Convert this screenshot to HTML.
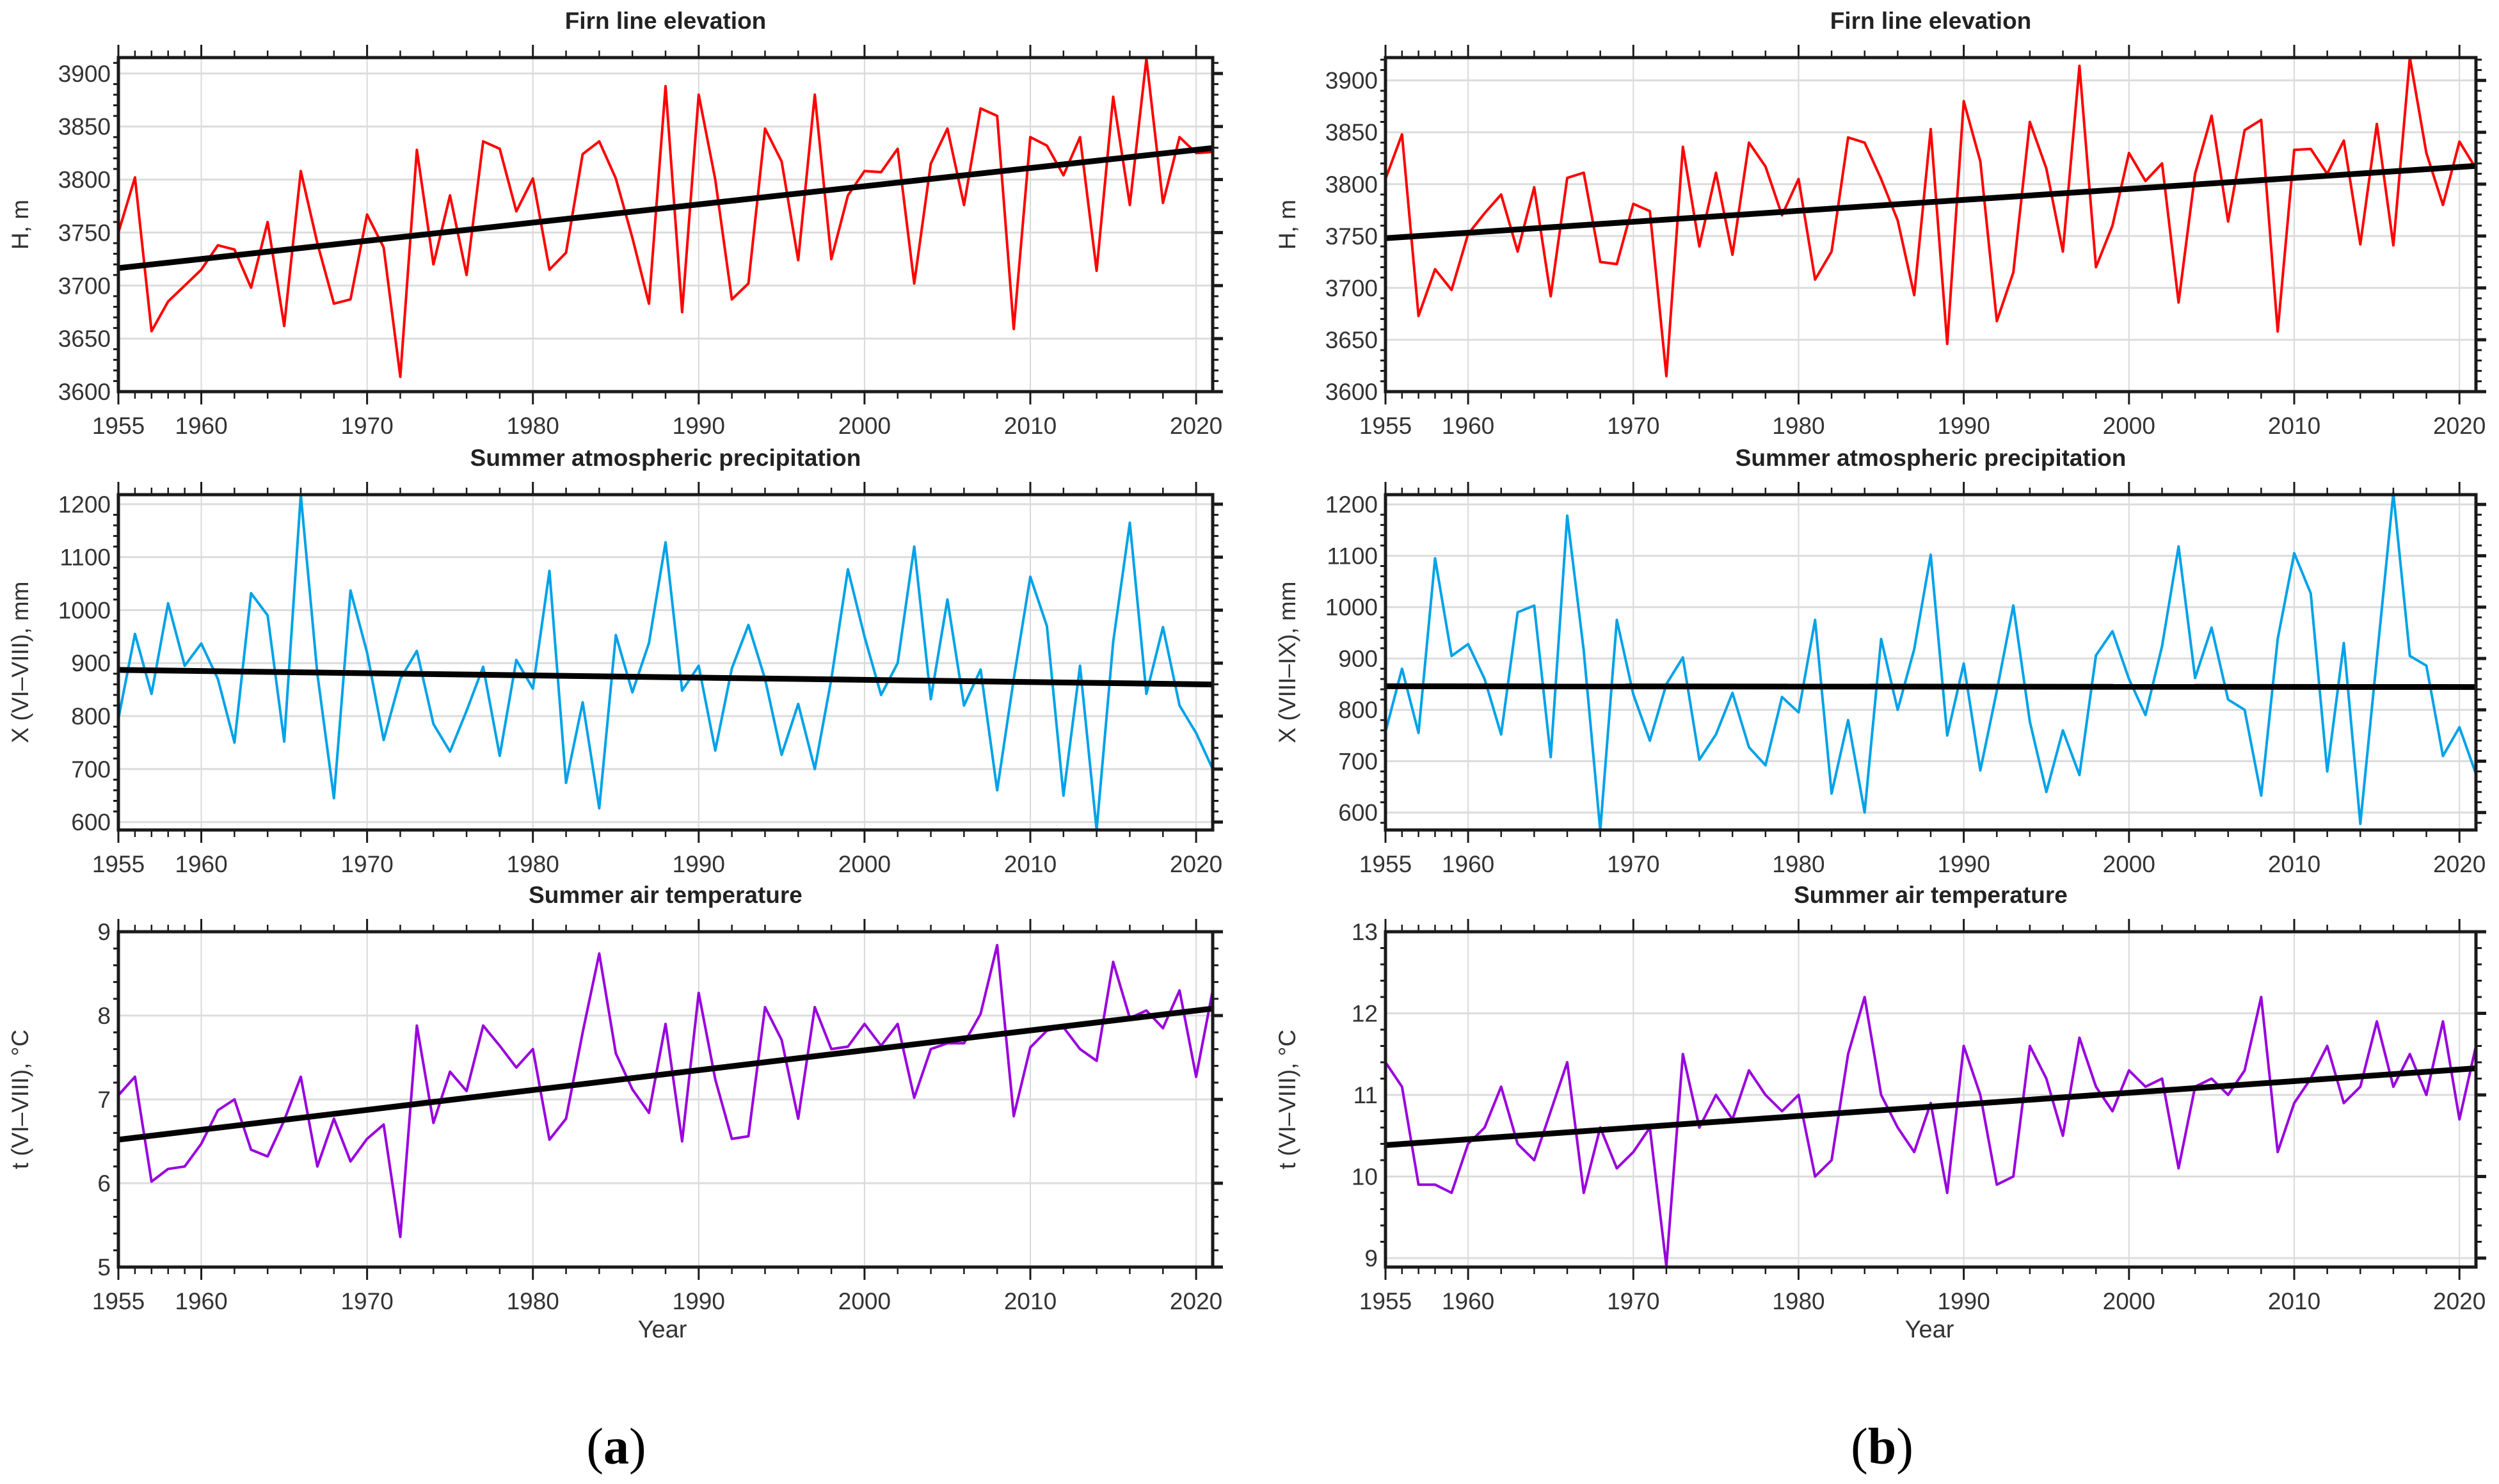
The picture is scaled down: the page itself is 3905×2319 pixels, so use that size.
<!DOCTYPE html>
<html><head><meta charset="utf-8"><style>
html,body{margin:0;padding:0;background:#fff;}
svg{display:block;}
text{font-family:"Liberation Sans",sans-serif;}
</style></head>
<body>
<svg id="fig" width="3905" height="2319" viewBox="0 0 3905 2319" xmlns="http://www.w3.org/2000/svg">
<rect x="0" y="0" width="3905" height="2319" fill="#fff"/>
<text x="1035" y="2090" font-size="38" fill="#333" text-anchor="middle">Year</text>
<text x="3015" y="2090" font-size="38" fill="#333" text-anchor="middle">Year</text>
<text x="963" y="2287" font-size="80" text-anchor="middle" style="font-family:'Liberation Serif',serif">(<tspan font-weight="bold">a</tspan>)</text>
<text x="2941" y="2287" font-size="80" text-anchor="middle" style="font-family:'Liberation Serif',serif">(<tspan font-weight="bold">b</tspan>)</text>
</svg>
<script>
const years = [];
for (let y = 1955; y <= 2021; y++) years.push(y);
const xTickLabels = [1955,1960,1970,1980,1990,2000,2010,2020];

const firnA = [3750,3802,3657,3685,3700,3715,3738,3734,3698,3760,3662,3808,3740,3683,3687,3767,3736,3614,3828,3720,3785,3710,3836,3829,3770,3801,3715,3731,3824,3836,3801,3745,3683,3888,3675,3880,3800,3687,3702,3848,3817,3724,3880,3725,3785,3808,3807,3829,3702,3815,3848,3776,3867,3860,3659,3840,3832,3804,3840,3714,3878,3776,3914,3778,3840,3825,3826];
const firnB = [3805,3848,3673,3718,3698,3752,3772,3790,3735,3797,3692,3806,3811,3725,3723,3781,3774,3615,3836,3740,3811,3732,3840,3817,3770,3805,3708,3735,3845,3840,3805,3765,3693,3853,3646,3880,3822,3668,3715,3860,3815,3735,3914,3720,3760,3830,3803,3820,3686,3810,3866,3764,3852,3862,3658,3833,3834,3810,3842,3742,3858,3741,3922,3830,3780,3841,3815];
const precA = [795,955,842,1013,895,937,870,750,1032,990,752,1218,880,645,1037,920,755,870,923,785,733,810,893,725,906,852,1074,674,826,626,953,845,938,1128,848,895,735,890,972,870,727,823,700,870,1077,950,840,900,1120,832,1020,820,888,660,870,1063,970,650,895,585,940,1165,842,968,820,768,700];
const precB = [757,880,755,1095,905,928,860,752,990,1003,708,1178,915,565,975,830,740,850,902,703,752,833,727,692,825,795,975,637,780,600,938,800,918,1102,750,890,682,837,1003,777,640,760,673,906,953,860,790,924,1118,862,960,820,800,633,938,1105,1027,680,930,578,900,1222,905,886,710,766,675];
const tempA = [7.05,7.27,6.02,6.17,6.20,6.47,6.87,7.00,6.40,6.32,6.75,7.27,6.20,6.77,6.26,6.53,6.70,5.36,7.88,6.72,7.33,7.10,7.88,7.64,7.38,7.60,6.52,6.77,7.80,8.74,7.55,7.12,6.84,7.90,6.50,8.27,7.24,6.53,6.56,8.10,7.71,6.77,8.10,7.60,7.63,7.90,7.64,7.90,7.02,7.60,7.67,7.67,8.02,8.84,6.80,7.62,7.82,7.86,7.60,7.46,8.64,7.97,8.06,7.85,8.30,7.27,8.30];
const tempB = [11.4,11.1,9.9,9.9,9.8,10.4,10.6,11.1,10.4,10.2,10.8,11.4,9.8,10.6,10.1,10.3,10.6,8.9,11.5,10.6,11.0,10.7,11.3,11.0,10.8,11.0,10.0,10.2,11.5,12.2,11.0,10.6,10.3,10.9,9.8,11.6,11.0,9.9,10.0,11.6,11.2,10.5,11.7,11.1,10.8,11.3,11.1,11.2,10.1,11.1,11.2,11.0,11.3,12.2,10.3,10.9,11.2,11.6,10.9,11.1,11.9,11.1,11.5,11.0,11.9,10.7,11.6];

const yTicksFirn = [3600,3650,3700,3750,3800,3850,3900];
const yTicksPrecA = [600,700,800,900,1000,1100,1200];
const yTicksPrecB = [600,700,800,900,1000,1100,1200];
const yTicksTempA = [5,6,7,8,9];
const yTicksTempB = [9,10,11,12,13];

const NS = "http://www.w3.org/2000/svg";
const svg = document.getElementById('fig');
function mk(tag, attrs, parent) {
  const e = document.createElementNS(NS, tag);
  for (const k in attrs) e.setAttribute(k, attrs[k]);
  (parent || svg).appendChild(e);
  return e;
}

function panel(cfg) {
  const g = mk('g', {});
  
  
  const {x0, x1, y0, y1, dmin, dmax} = cfg;
  const xs = v => x0 + (v - 1955) / (2021 - 1955) * (x1 - x0);
  const ys = v => y1 - (v - dmin) / (dmax - dmin) * (y1 - y0);
  // grid
  xTickLabels.forEach(t => {
    const l = mk('line', {x1: xs(t), x2: xs(t), y1: y0, y2: y1, stroke: '#d9d9d9', 'stroke-width': 2}, g);
    
    
  });
  cfg.yTicks.forEach(t => {
    if (t < dmin || t > dmax) return;
    const l = mk('line', {x1: x0, x2: x1, y1: ys(t), y2: ys(t), stroke: '#dcdcdc', 'stroke-width': 3}, g);
    
    
  });
  // data line
  const pts = cfg.data.map((v, i) => xs(years[i]).toFixed(1) + ',' + ys(v).toFixed(1)).join(' ');
  const pl = mk('polyline', {points: pts, fill: 'none', stroke: cfg.color, 'stroke-width': 4, 'stroke-linejoin': 'round'}, g);
  
  
  // trend (least squares)
  const n = cfg.data.length;
  let sx = 0, sy = 0, sxx = 0, sxy = 0;
  cfg.data.forEach((v, i) => { const x = years[i]; sx += x; sy += v; sxx += x * x; sxy += x * v; });
  const b = (n * sxy - sx * sy) / (n * sxx - sx * sx);
  const a = (sy - b * sx) / n;
  const tr = mk('line', {x1: xs(1955), y1: ys(a + b * 1955), x2: xs(2021), y2: ys(a + b * 2021), stroke: '#000', 'stroke-width': 9}, g);
  
  
  // frame
  const fr = mk('rect', {x: x0, y: y0, width: x1 - x0, height: y1 - y0, fill: 'none', stroke: '#1a1a1a', 'stroke-width': 5}, g);
  
  
  // x ticks top & bottom
  const minorX = [1956,1957,1958,1959];
  for (let y = 1962; y <= 2020; y += 2) minorX.push(y);
  xTickLabels.forEach(t => {
    mk('line', {x1: xs(t), x2: xs(t), y1: y0, y2: y0 - 20, stroke: '#1a1a1a', 'stroke-width': 3}, g);
    mk('line', {x1: xs(t), x2: xs(t), y1: y1, y2: y1 + 20, stroke: '#1a1a1a', 'stroke-width': 3}, g);
    const tx = mk('text', {x: xs(t), y: y1 + 66, 'font-size': 37, fill: '#333', 'text-anchor': 'middle'}, g);
    tx.textContent = t;
    
    
  });
  minorX.forEach(t => {
    mk('line', {x1: xs(t), x2: xs(t), y1: y0, y2: y0 - 11, stroke: '#1a1a1a', 'stroke-width': 2.5}, g);
    mk('line', {x1: xs(t), x2: xs(t), y1: y1, y2: y1 + 11, stroke: '#1a1a1a', 'stroke-width': 2.5}, g);
  });
  // y ticks
  const step = cfg.minorStep;
  const start = Math.ceil(dmin / step - 1e-9) * step;
  for (let v = start; v <= dmax + 1e-9; v += step) {
    const isMajor = cfg.yTicks.some(t => Math.abs(t - v) < 1e-6);
    const yy = ys(v);
    mk('line', {x1: x0, x2: x0 - (isMajor ? 0 : 8), y1: yy, y2: yy, stroke: '#1a1a1a', 'stroke-width': 3}, g);
    mk('line', {x1: x1, x2: x1 + (isMajor ? 16 : 9), y1: yy, y2: yy, stroke: '#1a1a1a', 'stroke-width': isMajor ? 5 : 3}, g);
  }
  cfg.yTicks.forEach(t => {
    if (t < dmin - 1e-9 || t > dmax + 1e-9) return;
    const tx = mk('text', {x: x0 - 12, y: ys(t) + 13, 'font-size': 37, fill: '#333', 'text-anchor': 'end'}, g);
    tx.textContent = t;
    
    
  });
  // title
  const tt = mk('text', {x: (x0 + x1) / 2, y: y0 - 45, 'font-size': 37, 'font-weight': 'bold', fill: '#222', 'text-anchor': 'middle'}, g);
  tt.textContent = cfg.title;
  
  
  // y label
  const cy = (y0 + y1) / 2;
  const yl = mk('text', {x: cfg.ylx, y: cy, 'font-size': 37, fill: '#333', 'text-anchor': 'middle', transform: 'rotate(-90 ' + cfg.ylx + ' ' + cy + ')'}, g);
  yl.textContent = cfg.ylabel;
  
  
}

const AX = {x0: 185, x1: 1895}, BX = {x0: 2165, x1: 3869};
const R1 = {y0: 90, y1: 612}, R2 = {y0: 773, y1: 1297}, R3 = {y0: 1456, y1: 1980};

panel(Object.assign({name: 'firn-chart-a', title: 'Firn line elevation', ylabel: 'H, m', ylx: 44, data: firnA, color: '#ff0000', seriesName: 'firn-series-a', dmin: 3600, dmax: 3915, yTicks: yTicksFirn, minorStep: 10}, AX, R1));
panel(Object.assign({name: 'firn-chart-b', title: 'Firn line elevation', ylabel: 'H, m', ylx: 2024, data: firnB, color: '#ff0000', seriesName: 'firn-series-b', dmin: 3600, dmax: 3922, yTicks: yTicksFirn, minorStep: 10}, BX, R1));
panel(Object.assign({name: 'precip-chart-a', title: 'Summer atmospheric precipitation', ylabel: 'X (VI\u2013VIII), mm', ylx: 44, data: precA, color: '#00a2e8', seriesName: 'precip-series-a', dmin: 585, dmax: 1218, yTicks: yTicksPrecA, minorStep: 20}, AX, R2));
panel(Object.assign({name: 'precip-chart-b', title: 'Summer atmospheric precipitation', ylabel: 'X (VIII\u2013IX), mm', ylx: 2024, data: precB, color: '#00a2e8', seriesName: 'precip-series-b', dmin: 566, dmax: 1219, yTicks: yTicksPrecB, minorStep: 20}, BX, R2));
panel(Object.assign({name: 'temp-chart-a', title: 'Summer air temperature', ylabel: 't (VI\u2013VIII), \u00B0C', ylx: 44, data: tempA, color: '#9900dd', seriesName: 'temp-series-a', dmin: 5, dmax: 9, yTicks: yTicksTempA, minorStep: 0.2}, AX, R3));
panel(Object.assign({name: 'temp-chart-b', title: 'Summer air temperature', ylabel: 't (VI\u2013VIII), \u00B0C', ylx: 2024, data: tempB, color: '#9900dd', seriesName: 'temp-series-b', dmin: 8.89, dmax: 13, yTicks: yTicksTempB, minorStep: 0.2}, BX, R3));
</script>
</body></html>
